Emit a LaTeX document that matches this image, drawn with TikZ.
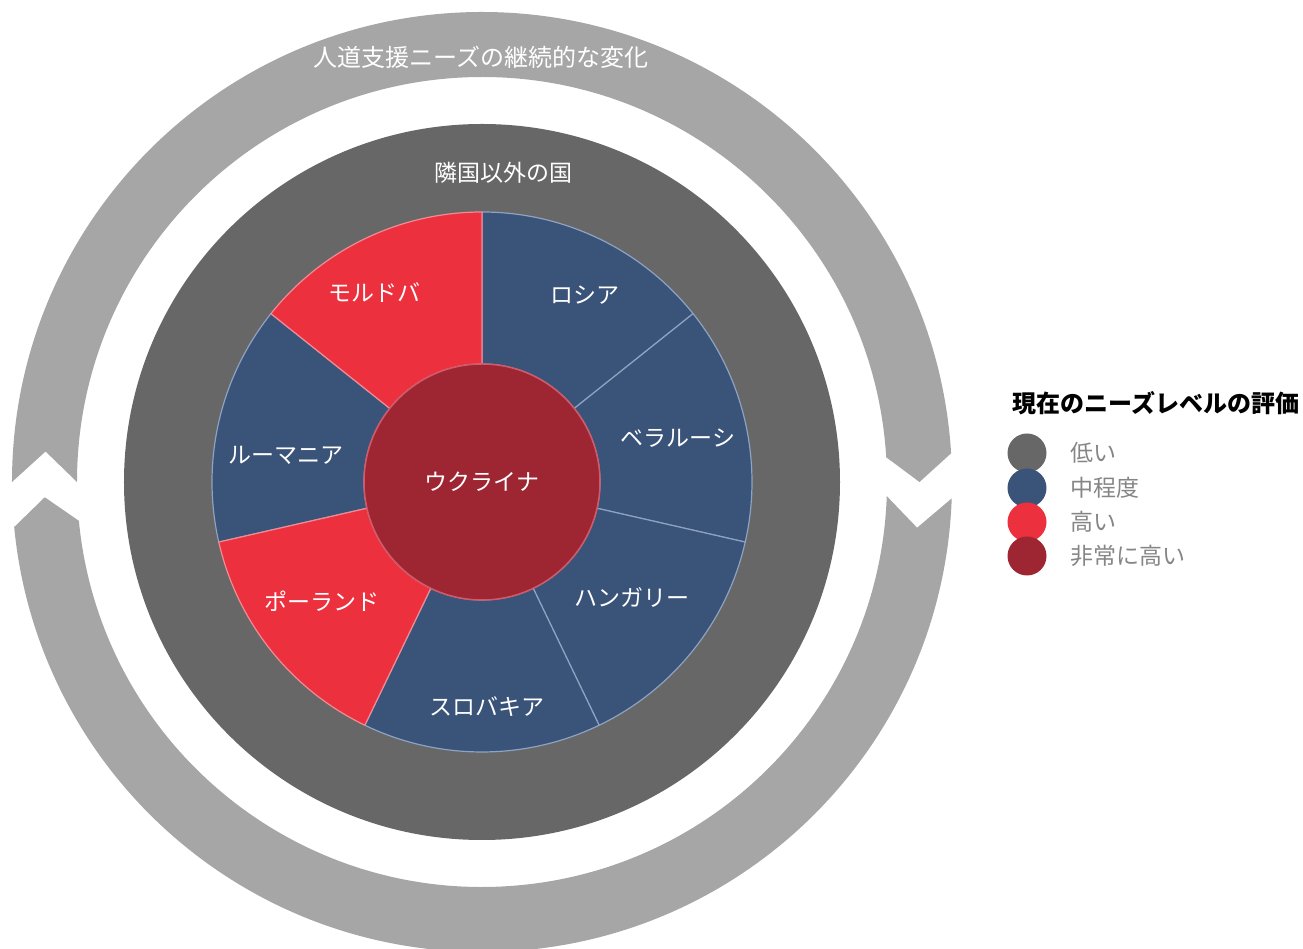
\documentclass[tikz,border=0pt]{standalone}
\usepackage{fontspec}
\setmainfont{Noto Sans CJK JP}
\definecolor{ringgray}{HTML}{A6A6A6}
\definecolor{diskgray}{HTML}{676767}
\definecolor{midblue}{HTML}{3A5378}
\definecolor{hired}{HTML}{EC303E}
\definecolor{vhired}{HTML}{9E2632}
\definecolor{legtext}{HTML}{858585}
\definecolor{blueline}{HTML}{8EA2C2}
\definecolor{redline}{HTML}{F08A95}
\definecolor{centerline}{HTML}{CF5A6A}
\begin{document}
\begin{tikzpicture}[x=1pt,y=1pt,
  seclabel/.style={text=white, font=\fontsize{23}{27}\selectfont, inner sep=0pt},
  ringlabel/.style={text=white, font=\fontsize{24}{28}\selectfont, inner sep=0pt},
  legdot/.style={circle, minimum size=39pt, inner sep=0pt},
  legtxt/.style={anchor=west, text=legtext, font=\fontsize{23}{27}\selectfont, inner sep=0pt},
  sector/.style={line width=1.2pt, line join=round}]
\useasboundingbox (-482,-467) rectangle (821,482);
\clip (-482,-467) rectangle (821,482);
% outer cycle ring (two arrow pieces)
\fill[ringgray] (180:470) arc[start angle=180, end angle=3.5, radius=470]
  -- (0:437.5) -- (3.5:405) arc[start angle=3.5, end angle=180, radius=405]
  -- (176:437.5) -- cycle;
\fill[ringgray] (-2:470) arc[start angle=-2, end angle=-174.5, radius=470]
  -- (-178:437.5) -- (-174.5:405) arc[start angle=-174.5, end angle=-2, radius=405]
  -- (-6:437.5) -- cycle;
% dark disk
\node[circle, fill=diskgray, minimum size=716pt, inner sep=0pt] (disk) at (0,0) {};
% sectors
\foreach \a/\c/\l in {90/midblue/blueline, 38.5714/midblue/blueline, -12.8571/midblue/blueline, -64.2857/midblue/blueline, 192.8571/midblue/blueline}{
  \pgfmathsetmacro{\b}{\a-51.4286}
  \filldraw[sector, fill=\c, draw=\l] (\a:118) -- (\a:270) arc[start angle=\a, end angle=\b, radius=270]
    -- (\b:118) arc[start angle=\b, end angle=\a, radius=118] -- cycle;
}
\foreach \a/\c/\l in {-115.7143/hired/redline, 141.4286/hired/redline}{
  \pgfmathsetmacro{\b}{\a-51.4286}
  \filldraw[sector, fill=\c, draw=\l] (\a:118) -- (\a:270) arc[start angle=\a, end angle=\b, radius=270]
    -- (\b:118) arc[start angle=\b, end angle=\a, radius=118] -- cycle;
}
% centre
\node[circle, fill=vhired, draw=centerline, line width=1.5pt, minimum size=236pt, inner sep=0pt,
  text=white, font=\fontsize{23}{27}\selectfont] (ukraine) at (0,0) {ウクライナ};
% labels
\node[ringlabel] (cycle) at (-1,425) {人道支援ニーズの継続的な変化};
\node[ringlabel, font=\fontsize{23}{27}\selectfont] (others) at (21,309) {隣国以外の国};
\node[seclabel] (moldova) at (-107,189) {モルドバ};
\node[seclabel] (russia) at (103,187) {ロシア};
\node[seclabel] (belarus) at (196,44) {ベラルーシ};
\node[seclabel] (hungary) at (150,-115) {ハンガリー};
\node[seclabel] (slovakia) at (5,-225) {スロバキア};
\node[seclabel] (poland) at (-160,-119) {ポーランド};
\node[seclabel] (romania) at (-196,27) {ルーマニア};
% legend
\node[font=\fontsize{24}{28}\selectfont\bfseries, inner sep=0pt] (legtitle) at (674,79) {現在のニーズレベルの評価};
\node[legdot, fill=diskgray] (dlow) at (545,29) {};
\node[legdot, fill=midblue] (dmid) at (545,-6) {};
\node[legdot, fill=hired] (dhigh) at (545,-40) {};
\node[legdot, fill=vhired] (dvhigh) at (545,-74) {};
\node[legtxt] (tlow) at (588,29) {低い};
\node[legtxt] (tmid) at (588,-6) {中程度};
\node[legtxt] (thigh) at (588,-40) {高い};
\node[legtxt] (tvhigh) at (588,-74) {非常に高い};
\end{tikzpicture}
\end{document}
